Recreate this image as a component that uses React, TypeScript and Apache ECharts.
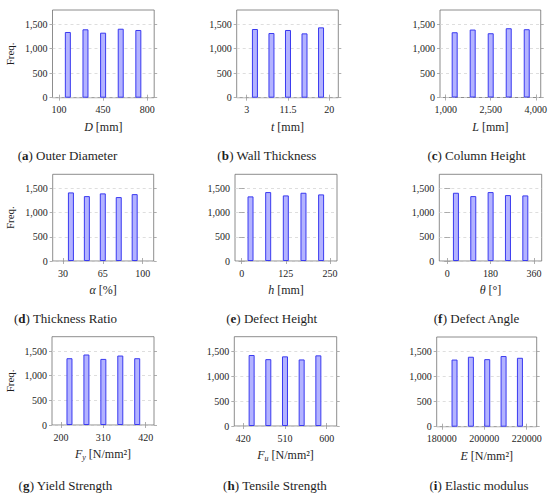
import React, { useEffect, useRef } from 'react';
import * as echarts from 'echarts';

const FONT = 'Liberation Serif, DejaVu Serif, serif';

// ---- data ----
const binsA = [170, 310, 450, 590, 730];
const countsA = [1341, 1396, 1327, 1408, 1382];
const ticksA = [100, 450, 800];

const binsB = [4.7, 8.1, 11.5, 14.9, 18.3];
const countsB = [1402, 1320, 1382, 1313, 1436];
const ticksB = [3, 11.5, 20];

const binsC = [1300, 1900, 2500, 3100, 3700];
const countsC = [1335, 1390, 1315, 1417, 1397];
const ticksC = [1000, 2500, 4000];

const binsD = [37, 51, 65, 79, 93];
const countsD = [1416, 1340, 1396, 1320, 1381];
const ticksD = [30, 65, 100];

const binsE = [25, 75, 125, 175, 225];
const countsE = [1334, 1423, 1354, 1409, 1375];
const ticksE = [0, 125, 250];

const binsF = [36, 108, 180, 252, 324];
const countsF = [1409, 1340, 1423, 1361, 1354];
const ticksF = [0, 180, 360];

const binsG = [222, 266, 310, 354, 398];
const countsG = [1354, 1429, 1340, 1408, 1354];
const ticksG = [200, 310, 420];

const binsH = [438, 474, 510, 546, 582];
const countsH = [1423, 1340, 1396, 1334, 1416];
const ticksH = [420, 510, 600];

const binsI = [186000, 193700, 201400, 209100, 216800];
const countsI = [1340, 1396, 1348, 1410, 1375];
const ticksI = [180000, 200000, 220000];

const yTicks = [0, 500, 1000, 1500];
const yMax = 1790;

const xNames = [
  '{i|D} [mm]',
  '{i|t} [mm]',
  '{i|L} [mm]',
  '{i|α} [%]',
  '{i|h} [mm]',
  '{i|θ} [°]',
  '{i|F}{s|y} [N/mm²]',
  '{i|F}{s|u} [N/mm²]',
  '{i|E} [N/mm²]',
];

const captionLetters = ['a', 'b', 'c', 'd', 'e', 'f', 'g', 'h', 'i'];
const captionTexts = [
  'Outer Diameter',
  'Wall Thickness',
  'Column Height',
  'Thickness Ratio',
  'Defect Height',
  'Defect Angle',
  'Yield Strength',
  'Tensile Strength',
  'Elastic modulus',
];

const xLimits = [
  [48, 856],
  [0.95, 21.85],
  [811, 4166],
  [21, 109.7],
  [-19, 270],
  [-33, 392],
  [176.6, 441.6],
  [400.6, 621.6],
  [177600, 224700],
];

const useComma = [false, false, true, false, false, false, false, false, false];

// ---- layout ----
const gridBoxes = [
  [52.5, 10, 101.7, 87.7],
  [236.7, 10, 101.6, 87.7],
  [440, 10, 101.3, 87.5],
  [52.7, 174.3, 101, 86.7],
  [235, 174.3, 102, 86.7],
  [439.3, 174.3, 102.4, 86.7],
  [52, 336.7, 102, 88.3],
  [234.3, 336.7, 102.4, 89.3],
  [436.7, 337, 100, 89.7],
];

const captionPos = [
  [67.5, 155],
  [267, 155],
  [476.5, 155],
  [65.5, 318.3],
  [271.7, 318.3],
  [476.7, 318.3],
  [65.5, 485],
  [275, 485],
  [479, 485],
];

const allBins = [binsA, binsB, binsC, binsD, binsE, binsF, binsG, binsH, binsI];
const allCounts = [countsA, countsB, countsC, countsD, countsE, countsF, countsG, countsH, countsI];
const allTicks = [ticksA, ticksB, ticksC, ticksD, ticksE, ticksF, ticksG, ticksH, ticksI];

const commaFmt = (v: number) => {
  const s = String(Math.round(v));
  return s.replace(/\B(?=(\d{3})+(?!\d))/g, ',');
};

const TEXT = '#1e1e1e';
const TICK = '#9a9a9a';
const GRIDLINE = '#d6d6d6';

function buildOption() {
  const grid: any[] = [];
  const xAxis: any[] = [];
  const yAxis: any[] = [];
  const series: any[] = [];
  const graphic: any[] = [];

  for (let i = 0; i < 9; i++) {
    const [l, t, w, h] = gridBoxes[i];
    grid.push({
      left: l,
      top: t,
      width: w,
      height: h,
      show: true,
      borderColor: '#707070',
      borderWidth: 0.8,
      backgroundColor: 'transparent',
      containLabel: false,
    });
    const ticks = allTicks[i];
    const [xmin, xmax] = xLimits[i];
    const comma = useComma[i];
    xAxis.push({
      type: 'value',
      gridIndex: i,
      min: xmin,
      max: xmax,
      position: 'bottom',
      axisLine: { show: false },
      axisTick: {
        show: true,
        inside: false,
        length: 3,
        customValues: ticks,
        lineStyle: { color: TICK, width: 0.8 },
      },
      axisLabel: {
        show: true,
        customValues: ticks,
        formatter: (v: number) => (comma ? commaFmt(v) : String(v)),
        margin: 7,
        fontSize: 10,
        color: TEXT,
        fontFamily: FONT,
      },
      splitLine: { show: false },
      name: xNames[i],
      nameLocation: 'middle',
      nameGap: 22,
      nameTextStyle: {
        fontSize: 12,
        lineHeight: 14,
        color: TEXT,
        fontFamily: FONT,
        rich: {
          i: { fontStyle: 'italic', fontSize: 12, lineHeight: 14, color: TEXT, fontFamily: FONT },
          s: { fontStyle: 'italic', fontSize: 8, lineHeight: 8, verticalAlign: 'bottom', color: TEXT, fontFamily: FONT },
        },
      },
    });
    xAxis.push({
      type: 'value',
      gridIndex: i,
      min: xmin,
      max: xmax,
      position: 'top',
      axisLine: { show: false },
      axisTick: {
        show: true,
        inside: false,
        length: 3,
        customValues: ticks,
        lineStyle: { color: TICK, width: 0.8 },
      },
      axisLabel: { show: false },
      splitLine: { show: false },
    });
    yAxis.push({
      type: 'value',
      gridIndex: i,
      min: 0,
      max: yMax,
      position: 'left',
      axisLine: { show: false },
      axisTick: {
        show: true,
        inside: false,
        length: 3,
        customValues: yTicks,
        lineStyle: { color: TICK, width: 0.8 },
      },
      axisLabel: {
        show: true,
        customValues: yTicks,
        formatter: (v: number) => commaFmt(v),
        margin: 5,
        fontSize: 10,
        color: TEXT,
        fontFamily: FONT,
      },
      splitLine: {
        show: true,
        lineStyle: { type: [3, 3], color: GRIDLINE, width: 0.8 },
      },
      name: i % 3 === 0 ? 'Freq.' : '',
      nameLocation: 'middle',
      nameGap: 37,
      nameTextStyle: { fontSize: 11, color: TEXT, fontFamily: FONT },
    });
    yAxis.push({
      type: 'value',
      gridIndex: i,
      min: 0,
      max: yMax,
      position: 'right',
      axisLine: { show: false },
      axisTick: {
        show: true,
        inside: false,
        length: 3,
        customValues: yTicks,
        lineStyle: { color: TICK, width: 0.8 },
      },
      axisLabel: { show: false },
      splitLine: { show: false },
    });
    const bins = allBins[i];
    const counts = allCounts[i];
    series.push({
      type: 'bar',
      xAxisIndex: 2 * i,
      yAxisIndex: 2 * i,
      data: bins.map((b, k) => [b, counts[k]]),
      barWidth: 6,
      silent: true,
      itemStyle: { color: '#b3b3ff', borderColor: '#3a3af0', borderWidth: 1 },
    });
    const [cx, cy] = captionPos[i];
    graphic.push({
      type: 'text',
      x: cx,
      y: cy,
      style: {
        text: '({b|' + captionLetters[i] + '}) ' + captionTexts[i],
        fontSize: 13,
        fontFamily: FONT,
        fill: TEXT,
        align: 'center',
        verticalAlign: 'middle',
        rich: {
          b: { fontWeight: 'bold', fontSize: 13, fontFamily: FONT, fill: TEXT },
        },
      },
    });
  }

  return {
    animation: false,
    backgroundColor: '#ffffff',
    textStyle: { fontFamily: FONT },
    grid,
    xAxis,
    yAxis,
    series,
    graphic,
  };
}

export default function App() {
  const ref = useRef<HTMLDivElement>(null);
  useEffect(() => {
    document.body.style.margin = '0';
    if (!ref.current) return;
    const chart = echarts.init(ref.current, undefined, { renderer: 'svg' });
    chart.setOption(buildOption() as any);
    return () => {
      chart.dispose();
    };
  }, []);
  return <div ref={ref} style={{ width: 550, height: 497 }} />;
}
